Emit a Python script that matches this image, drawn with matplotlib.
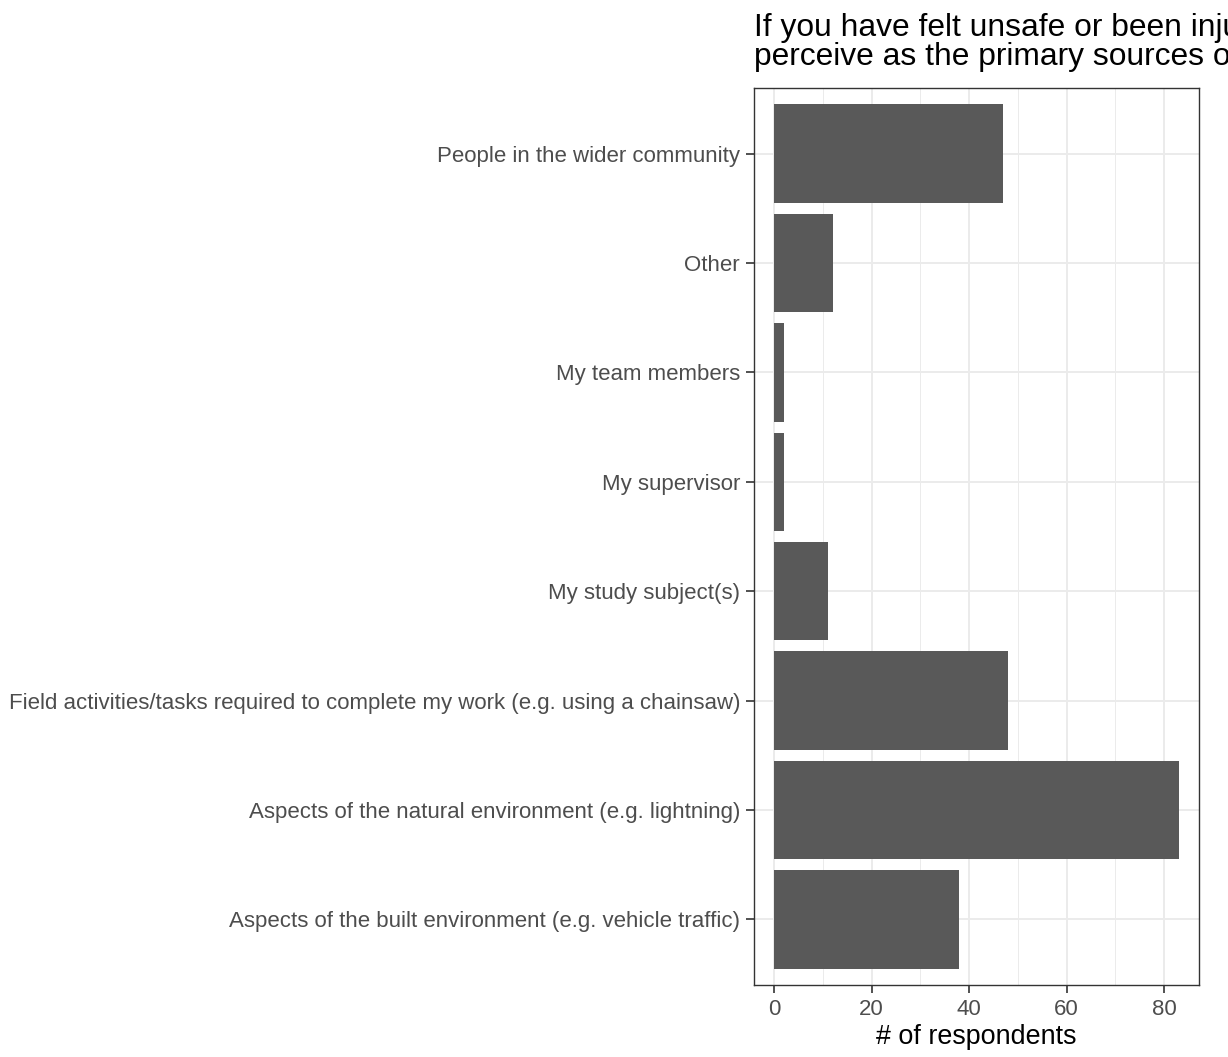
import numpy as np
import matplotlib.pyplot as plt

plt.rcParams['font.family'] = ['Liberation Sans', 'DejaVu Sans']

# data (bottom to top)
categories = [
    "Aspects of the built environment (e.g. vehicle traffic)",
    "Aspects of the natural environment (e.g. lightning)",
    "Field activities/tasks required to complete my work (e.g. using a chainsaw)",
    "My study subject(s)",
    "My supervisor",
    "My team members",
    "Other",
    "People in the wider community",
]
counts = [38, 83, 48, 11, 2, 2, 12, 47]
xticks = [0, 20, 40, 60, 80]
title = ("If you have felt unsafe or been injured while conducting fieldwork, what do you\n"
         "perceive as the primary sources of risk?")

W, H = 1228, 1057
fig = plt.figure(figsize=(W / 100, H / 100), dpi=100)
# panel position in pixels
left, right, top, bottom = 754, 1199, 88, 985
ax = fig.add_axes([left / W, 1 - bottom / H, (right - left) / W, (bottom - top) / H])

y = np.arange(1, len(categories) + 1)
ax.barh(y, counts, height=0.9, color='#595959', zorder=2)

xmax = max(counts)
ax.set_xlim(-0.05 * xmax, xmax * 1.05)
ax.set_ylim(0.4, len(categories) + 0.6)

ax.set_yticks(y)
ax.set_yticklabels(categories)
ax.set_xticks(xticks)
ax.set_xticks([10, 30, 50, 70], minor=True)
ax.tick_params(axis='both', which='major', labelsize=16, labelcolor='#4D4D4D',
               color='#333333', length=6, width=1.2, pad=4)
ax.tick_params(axis='x', which='minor', length=0)
ax.grid(which='major', color='#EBEBEB', linewidth=1.4, zorder=0)
ax.grid(which='minor', axis='x', color='#EBEBEB', linewidth=0.7, zorder=0)
ax.set_axisbelow(True)
for s in ax.spines.values():
    s.set_color('#333333')
    s.set_linewidth(1.0)

ax.set_xlabel('# of respondents', fontsize=19.4, labelpad=3)
# title runs off the right edge, as in the original
fig.text(left / W, 1 - 13 / H, title, fontsize=22.9, va='top', ha='left',
         linespacing=0.95)

fig.savefig('out.png', dpi=100)
